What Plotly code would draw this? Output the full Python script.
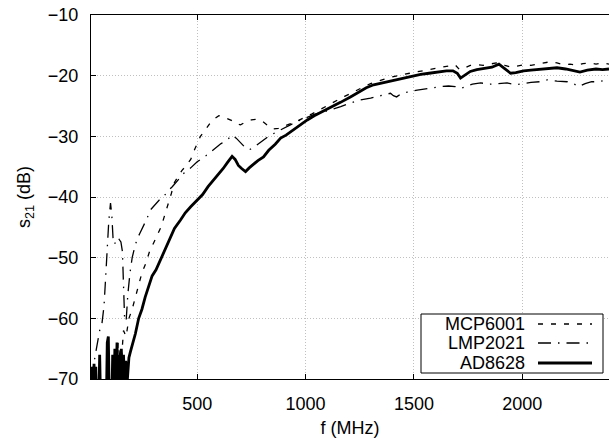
import plotly.graph_objects as go

# ---------------- data ----------------
mcp_f = [110, 118, 125, 135, 148, 160, 172, 185, 200, 215, 230, 245, 262, 280, 300, 318, 335, 350, 365, 380,
         395, 410, 430, 450, 470, 490, 515, 540, 560, 580, 600, 620, 640, 660, 680, 700, 725, 750, 775, 800,
         825, 850, 875, 900, 925, 950, 975, 1000, 1030, 1060, 1090, 1120, 1150, 1180, 1210, 1240, 1270, 1300,
         1330, 1360, 1390, 1420, 1450, 1480, 1510, 1540, 1570, 1600, 1630, 1660, 1690, 1710, 1730, 1760, 1790,
         1820, 1850, 1880, 1900, 1920, 1950, 1980, 2010, 2040, 2070, 2100, 2130, 2160, 2190, 2220, 2250, 2280,
         2310, 2340, 2370, 2400]
mcp_db = [-72, -66, -71, -64, -68, -62, -63, -60, -58.5, -56.5, -54.5, -52.5, -51, -49, -47.5, -46, -44.8, -43, -41.4, -39.5,
          -37.6, -36.8, -35.6, -34.8, -33.8, -32, -30, -28.8, -27.8, -27.1, -26.6, -26.8, -27.1, -27.4, -27.9, -28.1, -27.6, -27.3, -27.2, -27.5,
          -28.2, -28.8, -28.7, -28.3, -28.0, -27.7, -27.2, -26.8, -26.3, -25.7, -25.1, -24.6, -24.0, -23.4, -22.9, -22.3, -21.8, -21.3,
          -20.9, -20.6, -20.3, -20.0, -19.8, -19.6, -19.4, -19.2, -18.9, -18.8, -18.6, -18.3, -18.2, -19.0, -18.8, -18.3, -18.2,
          -18.3, -18.1, -17.9, -18.0, -18.3, -18.6, -18.4, -18.2, -18.3, -18.1, -17.9, -17.7, -17.9, -18.2, -18.1, -18.3, -18.0,
          -17.9, -18.1, -17.9, -18.1]

lmp_f = [12, 20, 30, 40, 50, 60, 70, 78, 85, 92, 100, 106, 112, 118, 125, 132, 140, 148, 155, 160, 165, 172, 180, 190,
         200, 210, 222, 235, 250, 265, 285, 305, 325, 346, 365, 385, 410, 438, 470, 500, 540, 577, 610, 638, 661, 680,
         700, 720, 740, 760, 780, 800, 830, 860, 890, 930, 970, 1008, 1040, 1080, 1120, 1162, 1200, 1254, 1300, 1340,
         1370, 1392, 1405, 1420, 1440, 1470, 1515, 1550, 1590, 1623, 1660, 1690, 1715, 1740, 1770, 1808, 1850, 1890,
         1930, 1970, 2000, 2040, 2080, 2115, 2160, 2208, 2240, 2260, 2290, 2320, 2350, 2392]
lmp_db = [-70, -68, -66, -64, -62, -61, -58, -53, -47, -44, -41, -43, -47, -47.8, -47.3, -47.6, -47, -47.4, -49, -55, -60, -60.5, -56, -52.5,
          -50, -48.5, -47, -46, -45, -43.8, -42.1, -41.3, -40.5, -39.9, -39, -38.3, -37.2, -36.1, -35.2, -34.2, -33.2, -32.2, -31.2, -30.6, -29.8, -30.3,
          -31.0, -31.8, -32.2, -31.9, -31.3, -30.8, -30.0, -29.4, -28.9, -28.1, -27.4, -26.8, -26.4, -26.0, -25.6, -25.1, -24.6, -24.0, -23.7, -23.3,
          -23.0, -22.9, -23.3, -23.5, -23.0, -22.7, -22.4, -22.2, -22.0, -21.8, -21.7, -21.8, -22.1, -21.8, -21.4, -21.2, -21.4, -21.3,
          -21.2, -21.5, -21.3, -21.1, -21.0, -20.7, -20.9, -21.0, -21.4, -21.8, -21.3, -21.0, -21.0, -20.7]

ad_f = [12, 16, 20, 24, 28, 32, 36, 40, 45, 50, 55, 60, 65, 70, 75, 80, 85, 90, 95, 100, 105, 110, 115, 120, 125, 130,
        135, 140, 145, 150, 155, 160, 165, 170, 178, 185, 192, 200, 215, 230, 245, 260, 275, 292, 310, 330, 350, 370,
        395, 423, 445, 470, 500, 525, 550, 576, 600, 620, 640, 661, 675, 690, 705, 723, 740, 760, 780, 806, 830, 860,
        885, 910, 940, 970, 1008, 1040, 1080, 1115, 1161, 1207, 1240, 1280, 1314, 1350, 1390, 1430, 1480, 1531, 1570,
        1610, 1650, 1680, 1700, 1715, 1735, 1760, 1790, 1830, 1860, 1892, 1910, 1930, 1946, 1970, 2006, 2040, 2080,
        2120, 2160, 2200, 2240, 2266, 2300, 2340, 2370, 2400]
ad_db = [-72, -68, -73, -67.5, -72, -68, -74, -70, -75, -66, -75, -72, -73, -75, -72, -76, -64, -63, -75, -73, -76, -66, -75, -65, -73, -64,
         -75, -66, -74, -65, -72, -66, -71, -67, -70, -66.5, -65.5, -64.5, -62.5, -60, -58.5, -56.5, -55, -53, -52, -50.4, -48.5, -47,
         -45.2, -43.8, -42.6, -41.6, -40.5, -39.6, -38.3, -37.2, -36.2, -35.3, -34.3, -33.3, -33.8, -34.8, -35.3, -35.8, -35.2, -34.6, -34.0, -33.4, -32.3, -31.3,
         -30.3, -29.8, -29.0, -28.2, -27.3, -26.6, -25.9, -25.2, -24.4, -23.5, -22.8, -22.0, -21.5, -21.2, -20.9, -20.6, -20.2, -19.8, -19.6,
         -19.4, -19.2, -19.2, -19.6, -20.4, -19.9, -19.3, -19.0, -18.8, -18.6, -18.1, -18.6, -19.2, -19.6, -19.5, -19.2, -19.1, -19.0,
         -18.8, -18.7, -18.9, -19.2, -19.4, -19.1, -18.9, -19.0, -18.9]

series_names = ["MCP6001", "LMP2021", "AD8628"]
x_ticks = [500, 1000, 1500, 2000]
y_ticks = [-10, -20, -30, -40, -50, -60, -70]

# ---------------- styling ----------------
W, H = 609, 439
ML, MR, MT, MB = 91, 0, 15, 60
FONT = "Liberation Sans, Arial, Helvetica, sans-serif"
DASH_MCP = "5px,8px"
DASH_LMP = "13px,7px,1.5px,7px"
styles = [dict(width=1.3, dash=DASH_MCP), dict(width=1.3, dash=DASH_LMP), dict(width=2.8, dash="solid")]

fig = go.Figure()
for name, fx, fy, st in zip(series_names, [mcp_f, lmp_f, ad_f], [mcp_db, lmp_db, ad_db], styles):
    fig.add_trace(go.Scatter(x=fx, y=fy, mode="lines", name=name,
                             line=dict(color="black", width=st["width"], dash=st["dash"]),
                             showlegend=False))

pw, ph = W - ML - MR, H - MT - MB
def px2x(px):
    return (px - ML) / pw
def py2y(py):
    return (H - MB - py) / ph

# gnuplot-style key (text left, sample right)
key_box = dict(x0=px2x(421), x1=px2x(603), y0=py2y(373), y1=py2y(314))
fig.add_shape(type="rect", xref="paper", yref="paper", layer="above",
              line=dict(color="black", width=1), fillcolor="white", **key_box)
row_py = [324, 343, 363]
for name, st, rpy in zip(series_names, styles, row_py):
    fig.add_annotation(x=px2x(527), y=py2y(rpy), xref="paper", yref="paper", text=name,
                       showarrow=False, xanchor="right", yanchor="middle",
                       font=dict(family=FONT, size=18, color="black"))
    fig.add_shape(type="line", xref="paper", yref="paper", layer="above",
                  x0=px2x(538), x1=px2x(592), y0=py2y(rpy), y1=py2y(rpy),
                  line=dict(color="black", width=st["width"], dash=st["dash"]))

axis_common = dict(showline=True, linecolor="black", linewidth=1.3, ticks="inside", ticklen=5,
                   tickcolor="black", tickwidth=1, showgrid=True, gridcolor="#c0c0c0", griddash="1px,2px",
                   gridwidth=1, zeroline=False, tickfont=dict(family=FONT, size=18, color="black"),
                   ticklabelstandoff=8)
fig.update_xaxes(range=[10, 2400], tickvals=x_ticks, mirror="ticks",
                 title=dict(text="f (MHz)", font=dict(family=FONT, size=18, color="black"), standoff=8),
                 **axis_common)
fig.update_yaxes(range=[-70, -10], tickvals=y_ticks, mirror=False,
                 title=dict(text="s<sub>21</sub> (dB)", font=dict(family=FONT, size=18, color="black"), standoff=12),
                 **axis_common)

fig.update_layout(width=W, height=H, margin=dict(l=ML, r=MR, t=MT, b=MB, autoexpand=False),
                  plot_bgcolor="white", paper_bgcolor="white", showlegend=False)

fig.write_html("out.html", config={"displayModeBar": False},
               post_script="document.body.style.margin='0';document.body.style.overflow='hidden';")
